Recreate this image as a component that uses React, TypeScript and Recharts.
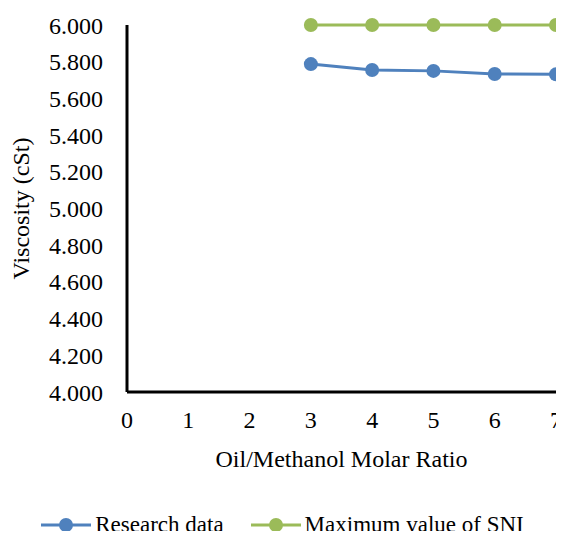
import React from "react";
import { LineChart, Line, XAxis, YAxis } from "recharts";

const ratios = [3, 4, 5, 6, 7];
const researchData = [5.787, 5.755, 5.75, 5.733, 5.731];
const sniMax = [6.0, 6.0, 6.0, 6.0, 6.0];
const xTicks = [0, 1, 2, 3, 4, 5, 6, 7];
const yTicks = [4.0, 4.2, 4.4, 4.6, 4.8, 5.0, 5.2, 5.4, 5.6, 5.8, 6.0];

const BLUE = "#4f81bd";
const GREEN = "#9bbb59";
const FONT = "Liberation Serif";

const data = ratios.map((r, i) => ({
  ratio: r,
  research: researchData[i],
  sni: sniMax[i],
}));

const legendItems = [
  { name: "Research data", color: BLUE },
  { name: "Maximum value of SNI", color: GREEN },
];

export default function App() {
  return (
    <div style={{ position: "relative", width: 564, height: 539, margin: -8, fontFamily: FONT }}>
      <LineChart
        width={564}
        height={539}
        data={data}
        margin={{ top: 25, right: 8, bottom: 0, left: 0 }}
      >
        <XAxis
          dataKey="ratio"
          type="number"
          domain={[0, 7]}
          ticks={xTicks}
          axisLine={{ stroke: "#000", strokeWidth: 3 }}
          tickLine={false}
          tickSize={0}
          tickMargin={19}
          tick={{ fill: "#000", fontSize: 24, fontFamily: FONT }}
          height={147}
          label={{
            value: "Oil/Methanol Molar Ratio",
            position: "insideTop",
            offset: 58,
            fill: "#000",
            fontSize: 24,
            fontFamily: FONT,
          }}
        />
        <YAxis
          type="number"
          domain={[4, 6]}
          ticks={yTicks}
          width={127}
          axisLine={{ stroke: "#000", strokeWidth: 3 }}
          tickLine={false}
          tickSize={0}
          tickMargin={24}
          tickFormatter={(v: number) => v.toFixed(3)}
          tick={{ fill: "#000", fontSize: 24, fontFamily: FONT }}
          label={{
            value: "Viscosity (cSt)",
            angle: -90,
            position: "insideLeft",
            offset: 20,
            style: { textAnchor: "middle" },
            fill: "#000",
            fontSize: 24,
            fontFamily: FONT,
          }}
        />
        <Line
          dataKey="research"
          name="Research data"
          stroke={BLUE}
          strokeWidth={3}
          dot={{ r: 7, fill: BLUE, stroke: BLUE, strokeWidth: 0 }}
          isAnimationActive={false}
        />
        <Line
          dataKey="sni"
          name="Maximum value of SNI"
          stroke={GREEN}
          strokeWidth={3}
          dot={{ r: 7, fill: GREEN, stroke: GREEN, strokeWidth: 0 }}
          isAnimationActive={false}
        />
      </LineChart>
      <div
        style={{
          position: "absolute",
          top: 512,
          left: 0,
          width: 564,
          display: "flex",
          justifyContent: "center",
          fontSize: 23,
          color: "#000",
        }}
      >
        {legendItems.map((item, i) => (
          <div key={item.name} style={{ display: "flex", alignItems: "center", marginLeft: i ? 26 : 0 }}>
            <svg width={52} height={16}>
              <line x1={1} y1={8} x2={51} y2={8} stroke={item.color} strokeWidth={3} />
              <circle cx={26} cy={8} r={7} fill={item.color} />
            </svg>
            <span style={{ marginLeft: 3 }}>{item.name}</span>
          </div>
        ))}
      </div>
    </div>
  );
}
